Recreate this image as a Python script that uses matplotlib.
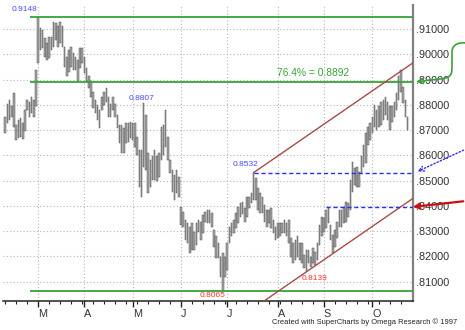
import matplotlib
matplotlib.use('Agg')
import matplotlib.pyplot as plt
import numpy as np
import pandas as pd
from matplotlib.patches import FancyArrowPatch
from matplotlib.path import Path

plt.rcParams['font.family'] = ['Liberation Sans', 'DejaVu Sans']

# ---------------- data (daily bars) ----------------
start_date = '1997-02-10'
highs = [
    .8754, .8805, .8820, .8794, .8846, .8721, .8741, .8747, .8728, .8780,
    .8820, .8813, .8833, .8820, .8939, .9148, .9104, .9097, .9064, .9044,
    .9071, .9071, .9130, .9124, .9111, .9130, .9111, .9031, .8992, .9018,
    .9031, .9005, .8992, .8978, .9025, .9025, .8992, .8945, .8913, .8893,
    .8853, .8820, .8800, .8780, .8833, .8853, .8866, .8833, .8805, .8833,
    .8805, .8761, .8721, .8721, .8708, .8728, .8728, .8734, .8728, .8728,
    .8675, .8622, .8622, .8807, .8761, .8609, .8582, .8596, .8622, .8596,
    .8609, .8714, .8721, .8780, .8675, .8582, .8543, .8523, .8543, .8516,
    .8397, .8378, .8345, .8331, .8318, .8331, .8298, .8331, .8345, .8338,
    .8364, .8378, .8384, .8384, .8371, .8305, .8279, .8252, .8199, .8212,
    .8199, .8252, .8318, .8331, .8345, .8371, .8397, .8411, .8417, .8391,
    .8437, .8437, .8450, .8532, .8510, .8470, .8450, .8437, .8404, .8384,
    .8384, .8391, .8345, .8318, .8331, .8331, .8331, .8345, .8331, .8345,
    .8272, .8252, .8265, .8279, .8252, .8252, .8206, .8226, .8226, .8199,
    .8232, .8219, .8252, .8325, .8358, .8351, .8384, .8395, .8325, .8285,
    .8305, .8338, .8384, .8384, .8397, .8417, .8411, .8503, .8576, .8549,
    .8556, .8536, .8596, .8642, .8688, .8714, .8728, .8754, .8800, .8780,
    .8794, .8813, .8820, .8831, .8813, .8794, .8794, .8813, .8846, .8913,
    .8939, .8873, .8820, .8754]
lows = [
    .8688, .8728, .8741, .8754, .8714, .8662, .8668, .8675, .8664, .8695,
    .8780, .8754, .8767, .8754, .8794, .8965, .9018, .9025, .8992, .8978,
    .8985, .9018, .9031, .9058, .9031, .9044, .9031, .8952, .8913, .8932,
    .8952, .8939, .8939, .8893, .8945, .8965, .8926, .8893, .8866, .8833,
    .8787, .8767, .8741, .8708, .8780, .8800, .8813, .8754, .8754, .8780,
    .8754, .8708, .8648, .8609, .8609, .8648, .8655, .8668, .8662, .8635,
    .8602, .8477, .8437, .8556, .8543, .8450, .8477, .8503, .8503, .8497,
    .8516, .8582, .8602, .8635, .8582, .8529, .8457, .8424, .8450, .8437,
    .8325, .8318, .8265, .8252, .8212, .8226, .8226, .8246, .8298, .8265,
    .8292, .8338, .8331, .8331, .8318, .8239, .8193, .8193, .8120, .8065,
    .8120, .8146, .8252, .8279, .8292, .8312, .8331, .8358, .8368, .8338,
    .8358, .8391, .8411, .8424, .8424, .8384, .8371, .8371, .8338, .8318,
    .8331, .8312, .8292, .8265, .8272, .8279, .8292, .8292, .8279, .8252,
    .8199, .8173, .8186, .8199, .8186, .8173, .8153, .8139, .8173, .8160,
    .8173, .8166, .8186, .8246, .8279, .8298, .8312, .8331, .8265, .8212,
    .8239, .8272, .8318, .8318, .8331, .8338, .8358, .8384, .8457, .8483,
    .8477, .8477, .8529, .8556, .8569, .8642, .8662, .8688, .8714, .8701,
    .8714, .8721, .8741, .8761, .8741, .8701, .8734, .8754, .8780, .8820,
    .8853, .8807, .8754, .8701]

fib_high = 0.9148
fib_low = 0.8065
fib_level = 0.8892
fib_label = '76.4% = 0.8892'
swing_high_1 = 0.8807
swing_high_2 = 0.8532
swing_low_2 = 0.8139
breakout_level = 0.8395
channel_slope = 0.0006          # price per bar
yticks = [0.81, 0.82, 0.83, 0.84, 0.85, 0.86, 0.87, 0.88, 0.89, 0.90, 0.91]
credit = 'Created with SuperCharts by Omega Research \u00a9 1997'

# ---------------- derived ----------------
highs_a = np.array(highs)
lows_a = np.array(lows)
n = len(highs)
x = np.arange(n)
dates = pd.bdate_range(start_date, periods=n)

i_top = highs.index(fib_high)
i_h1 = highs.index(swing_high_1)
i_h2 = highs.index(swing_high_2)
i_bot = lows.index(fib_low)
i_l2 = lows.index(swing_low_2)
i_brk = highs.index(breakout_level)

month_idx = [i for i in range(1, n) if dates[i].month != dates[i - 1].month]
month_lbl = [dates[i].strftime('%b')[0] for i in month_idx]
monday_idx = [i for i in range(n) if dates[i].dayofweek == 0]

XMIN, XMAX = -1.0, n + 1.5
YMIN, YMAX = 0.80235, 0.9196

W, H = 465, 330
fig = plt.figure(figsize=(W / 100, H / 100), dpi=100)
ax = fig.add_axes([3 / W, 29 / H, 410 / W, 296 / H])
ax.set_xlim(XMIN, XMAX)
ax.set_ylim(YMIN, YMAX)

# grid
for yv in yticks:
    ax.axhline(yv, color='#b5b5b5', lw=0.8, ls=(0, (1, 2)), zorder=0)
for xi in month_idx:
    ax.axvline(xi, color='#b5b5b5', lw=0.8, ls=(0, (1, 2)), zorder=0)

# bars
ax.bar(x, highs_a - lows_a, bottom=lows_a, width=0.7, color='#a8a8a8',
       edgecolor='#505050', linewidth=0.35, zorder=3)

# fib lines
green = '#38a338'
ax.hlines([fib_high, fib_level, fib_low], i_top - 3.5, XMAX, color=green, lw=1.3, zorder=4)

# channel
xs = np.array([i_h2, XMAX])
ax.plot(xs, swing_high_2 + channel_slope * (xs - i_h2), color='#a84a4a', lw=1.0, zorder=4)
ax.plot(xs, swing_low_2 + channel_slope * (xs - i_l2), color='#a84a4a', lw=1.0, zorder=4)

# blue dashed levels
blue = '#2a2aff'
ax.hlines(swing_high_2, i_h2, XMAX, color=blue, lw=1.0, linestyles=(0, (3, 2)), zorder=4)
ax.hlines(breakout_level, i_brk - 1, XMAX, color=blue, lw=1.0, linestyles=(0, (3, 2)), zorder=4)

# labels
lbl_blue = '#4a4aff'
lbl_red = '#ff3030'
ax.text(i_top - 12, 0.9177, f'{fib_high:.4f}', color=lbl_blue, fontsize=6, ha='left', va='center')
ax.text(i_h1 - 1, 0.8824, f'{swing_high_1:.4f}', color=lbl_blue, fontsize=6, ha='center', va='center')
ax.text(i_h2 - 3.5, 0.8565, f'{swing_high_2:.4f}', color=lbl_blue, fontsize=6, ha='center', va='center')
ax.text(i_bot - 4.5, 0.8045, f'{fib_low:.4f}', color=lbl_red, fontsize=6, ha='center', va='center')
ax.text(i_l2 + 3.5, 0.8111, f'{swing_low_2:.4f}', color=lbl_red, fontsize=6, ha='center', va='center')
ax.text(123.5, 0.8926, fib_label, color=green, fontsize=7.4, ha='left', va='center')

# axes styling
for s in ['top', 'left']:
    ax.spines[s].set_visible(False)
ax.spines['right'].set_color('#808080')
ax.spines['right'].set_linewidth(1.6)
ax.spines['bottom'].set_color('#222222')
ax.spines['bottom'].set_linewidth(1.1)
ax.yaxis.tick_right()
ax.set_yticks(yticks)
ax.set_yticklabels([f'{v:.5f}'[1:] for v in yticks])
ax.tick_params(axis='y', length=0, pad=2.5, labelsize=7.8, labelcolor='#333333')
ax.set_xticks(month_idx)
ax.set_xticklabels(month_lbl)
ax.set_xticks(monday_idx, minor=True)
ax.tick_params(axis='x', which='major', length=4.5, width=1, color='#222222',
               labelsize=7.8, labelcolor='#333333', pad=1.5)
ax.tick_params(axis='x', which='minor', length=2.5, width=0.8, color='#222222')
for lab in ax.get_xticklabels():
    lab.set_ha('left')

fig.text(457 / W, 1 - 322 / H, credit, fontsize=5.4, color='#222222', ha='right', va='center')

# ---------------- margin arrows (overlay in pixel coords) ----------------
def to_px(xd, yd):
    X, Y = ax.transData.transform((xd, yd))
    return X, H - Y

ov = fig.add_axes([0, 0, 1, 1], zorder=6)
ov.set_xlim(0, W)
ov.set_ylim(H, 0)
ov.axis('off')

_, yg = to_px(XMAX, fib_level)
verts = [(466, 43), (458, 42), (452, 45), (452, 52), (452, 68),
         (452, 76), (449, 78), (440, 79), (416, yg)]
codes = [Path.MOVETO, Path.CURVE4, Path.CURVE4, Path.CURVE4, Path.LINETO,
         Path.CURVE4, Path.CURVE4, Path.CURVE4, Path.LINETO]
ov.add_patch(FancyArrowPatch(path=Path(verts, codes), arrowstyle='->', mutation_scale=9,
                             color=green, lw=1.2, clip_on=False))

_, yb = to_px(XMAX, swing_high_2)
ov.add_patch(FancyArrowPatch((466, 149), (415, yb), arrowstyle='->', mutation_scale=9,
                             color=blue, lw=1.0, ls=(0, (1, 1.5)), clip_on=False))

_, yr = to_px(XMAX, breakout_level)
ov.add_patch(FancyArrowPatch((466, 201), (410, yr), arrowstyle='->', mutation_scale=9,
                             color='#cc1010', lw=1.6, clip_on=False))

fig.savefig('out.png', dpi=100, facecolor='white')
